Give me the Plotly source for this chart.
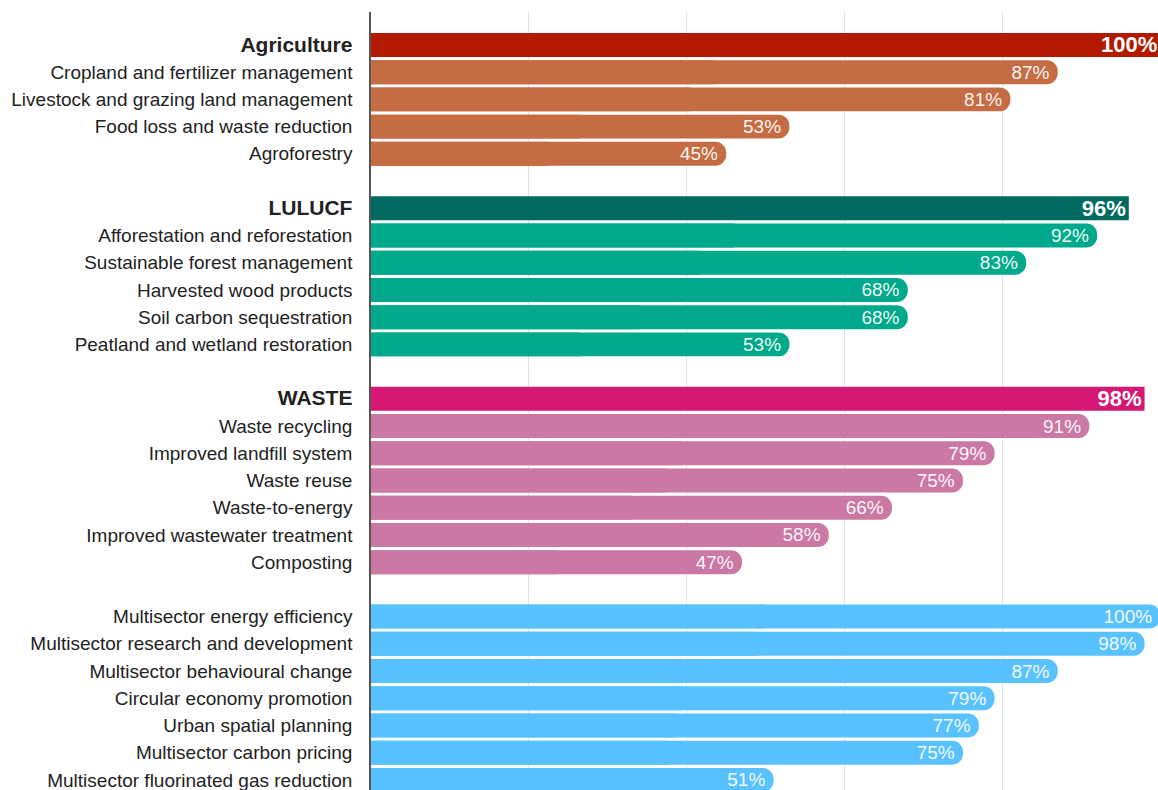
import plotly.graph_objects as go

# ---------------- data ----------------
agri_header = "Agriculture"
agri_total = 100
agri_labels = ["Cropland and fertilizer management", "Livestock and grazing land management",
               "Food loss and waste reduction", "Agroforestry"]
agri_values = [87, 81, 53, 45]

lulucf_header = "LULUCF"
lulucf_total = 96
lulucf_labels = ["Afforestation and reforestation", "Sustainable forest management",
                 "Harvested wood products", "Soil carbon sequestration", "Peatland and wetland restoration"]
lulucf_values = [92, 83, 68, 68, 53]

waste_header = "WASTE"
waste_total = 98
waste_labels = ["Waste recycling", "Improved landfill system", "Waste reuse", "Waste-to-energy",
                "Improved wastewater treatment", "Composting"]
waste_values = [91, 79, 75, 66, 58, 47]

multi_labels = ["Multisector energy efficiency", "Multisector research and development",
                "Multisector behavioural change", "Circular economy promotion", "Urban spatial planning",
                "Multisector carbon pricing", "Multisector fluorinated gas reduction"]
multi_values = [100, 98, 87, 79, 77, 75, 51]

groups = [
    dict(header=agri_header, total=agri_total, labels=agri_labels, values=agri_values,
         main_color="#B21A00", sub_color="#C56C45"),
    dict(header=lulucf_header, total=lulucf_total, labels=lulucf_labels, values=lulucf_values,
         main_color="#006A60", sub_color="#00A98B"),
    dict(header=waste_header, total=waste_total, labels=waste_labels, values=waste_values,
         main_color="#D41873", sub_color="#CB78A5"),
    dict(header=None, total=None, labels=multi_labels, values=multi_values,
         main_color=None, sub_color="#58C1FF"),
]

# ---------------- build rows ----------------
main_y, main_x, main_c = [], [], []
sub_y, sub_x, sub_c = [], [], []
tickvals, ticktext = [], []
row = 0
for gi, g in enumerate(groups):
    if gi > 0:
        row += 1  # blank spacer row
    if g["header"] is not None:
        main_y.append(row); main_x.append(g["total"]); main_c.append(g["main_color"])
        tickvals.append(row)
        ticktext.append('<span style="font-size:21px"><b>%s</b></span>' % g["header"])
        row += 1
    for lab, v in zip(g["labels"], g["values"]):
        sub_y.append(row); sub_x.append(v); sub_c.append(g["sub_color"])
        tickvals.append(row); ticktext.append(lab)
        row += 1

FONT = "Liberation Sans, Arial, Helvetica, sans-serif"
BAR_W = 0.88

fig = go.Figure()

# rounded sub bars
fig.add_trace(go.Bar(
    x=sub_x, y=sub_y, orientation="h", width=BAR_W,
    marker=dict(color=sub_c, cornerradius="50%", line=dict(width=0)),
    hoverinfo="skip", showlegend=False,
))
# square left part for sub bars (hides left rounding)
fig.add_trace(go.Bar(
    x=[v / 2 for v in sub_x], y=sub_y, orientation="h", width=BAR_W,
    marker=dict(color=sub_c, line=dict(width=0)),
    hoverinfo="skip", showlegend=False,
))
# value labels for sub bars (transparent carrier bars)
fig.add_trace(go.Bar(
    x=sub_x, y=sub_y, orientation="h", width=BAR_W,
    marker=dict(color="rgba(0,0,0,0)", line=dict(width=0)),
    texttemplate="%{x}%\u00a0", textposition="inside", insidetextanchor="end",
    constraintext="none",
    textfont=dict(color="rgba(255,255,255,0.95)", size=19, family=FONT),
    hoverinfo="skip", showlegend=False,
))
# header bars
fig.add_trace(go.Bar(
    x=main_x, y=main_y, orientation="h", width=BAR_W,
    marker=dict(color=main_c, line=dict(width=0)),
    texttemplate="<b>%{x}%</b>", textposition="inside", insidetextanchor="end",
    constraintext="none",
    textfont=dict(color="white", size=22, family=FONT),
    hoverinfo="skip", showlegend=False,
))

fig.update_layout(
    width=1158, height=790,
    margin=dict(l=371, r=0, t=12, b=0),
    paper_bgcolor="white", plot_bgcolor="white",
    barmode="overlay",
    font=dict(family=FONT, color="#222222"),
    xaxis=dict(range=[0, 99.7], showticklabels=False, tickvals=[20, 40, 60, 80, 100],
               showgrid=True, gridcolor="#e3e3e3", gridwidth=1, zeroline=False, showline=False,
               fixedrange=True),
    yaxis=dict(range=[27.37, -1.21], tickvals=tickvals, ticktext=ticktext,
               showgrid=False, zeroline=False, showline=True, linecolor="#555555", linewidth=1.5,
               ticks="", ticklabelstandoff=13, ticklabeloverflow="allow",
               tickfont=dict(size=19, family=FONT, color="#222222"),
               fixedrange=True),
)

fig.write_html("out.html",
               config={"displayModeBar": False},
               post_script="document.body.style.margin='0';document.body.style.overflow='hidden';")
